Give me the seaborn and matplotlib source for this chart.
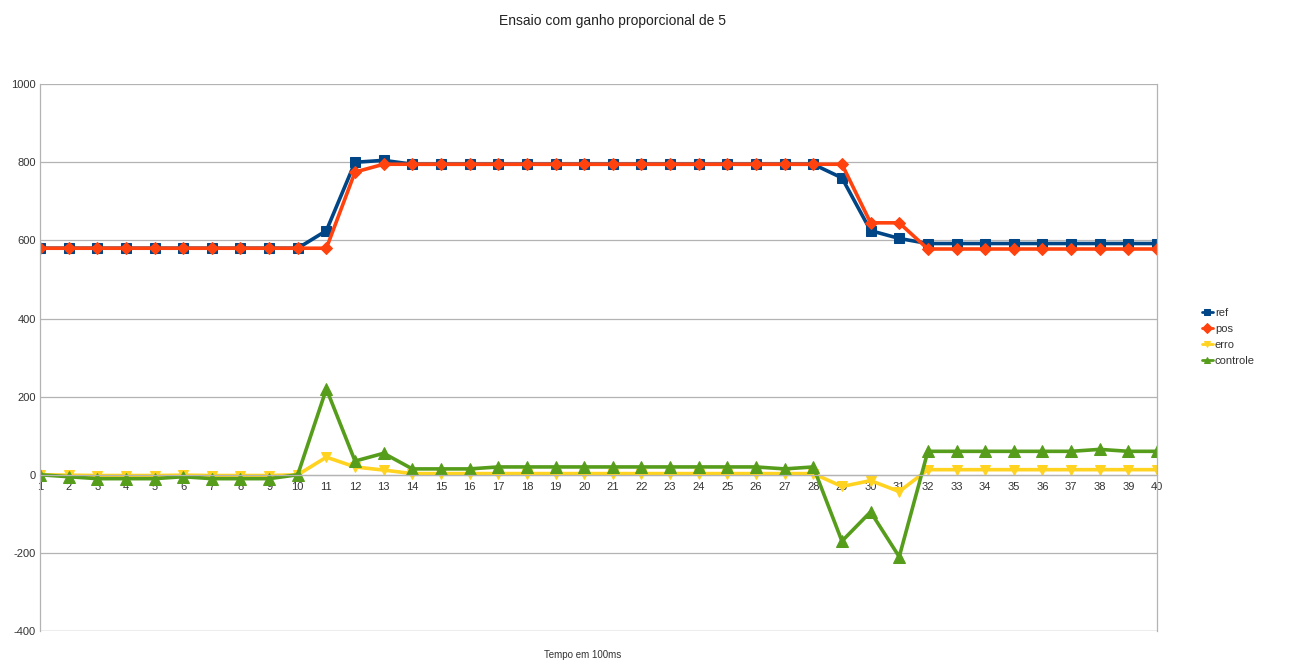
import numpy as np
import pandas as pd
import matplotlib
matplotlib.use("Agg")
import matplotlib.pyplot as plt
import seaborn as sns

tempo = list(range(1, 41))
ref = [580]*10 + [625, 800, 805] + [795]*15 + [760, 625, 605] + [592]*9
pos = [580]*11 + [775] + [795]*17 + [645, 645] + [578]*9
erro = [0, -1, -2, -2, -2, -1, -2, -2, -2, 0, 45, 20, 12] + [3]*15 + [-30, -15, -43] + [13]*9
controle = [0, -5, -10, -10, -10, -5, -10, -10, -10, 0, 220, 35, 55, 15, 15, 15,
            20, 20, 20, 20, 20, 20, 20, 20, 20, 20, 15, 20, -170, -95, -210,
            60, 60, 60, 60, 60, 60, 65, 60, 60]

series_names = ["ref", "pos", "erro", "controle"]
colors = ["#004586", "#ff420e", "#ffd320", "#579d1c"]
markers = ["s", "D", "v", "^"]
msizes = [7, 6, 7, 8]

df = pd.DataFrame({"tempo": tempo, "ref": ref, "pos": pos, "erro": erro, "controle": controle})

sns.set_theme(style="white")
plt.rcParams["font.family"] = ["Liberation Sans", "DejaVu Sans"]
plt.rcParams["axes.unicode_minus"] = False

fig = plt.figure(figsize=(12.89, 6.68), dpi=100)
ax = fig.add_axes([0.031, 0.0554, 0.8666, 0.8186])

for name, c, m, ms in zip(series_names, colors, markers, msizes):
    sns.lineplot(data=df, x="tempo", y=name, ax=ax, color=c, marker=m,
                 markersize=ms, markeredgecolor=c, linewidth=2.6, label=name)

ax.set_xlim(1, 40)
ax.set_ylim(-400, 1000)
ax.set_yticks(range(-400, 1001, 200))
ax.set_xticks(tempo)
ax.tick_params(axis="both", labelsize=8, colors="#333333", length=0, pad=3)
ax.tick_params(axis="x", length=4, color="#b3b3b3", direction="out", pad=1)
ax.yaxis.grid(True, color="#b3b3b3", linewidth=0.9)
ax.set_axisbelow(True)
ax.spines["bottom"].set_position(("data", 0))
for s in ["bottom", "left", "right"]:
    ax.spines[s].set_color("#b3b3b3")
    ax.spines[s].set_linewidth(0.9)
ax.spines["top"].set_visible(False)
ax.axhline(-400, color="#b3b3b3", linewidth=0.9, zorder=0)

ax.set_ylabel("")
ax.set_xlabel("")
fig.text(0.4523, 0.012, "Tempo em 100ms", ha="center", va="bottom", fontsize=7, color="#333333")
fig.text(0.4748, 0.968, "Ensaio com ganho proporcional de 5", ha="center", va="center", fontsize=10, color="#222222")

leg = ax.legend(loc="center left", bbox_to_anchor=(1.035, 0.538), frameon=False,
                fontsize=8, handlelength=1.0, handletextpad=0.2, labelspacing=0.55,
                borderpad=0)
for t in leg.get_texts():
    t.set_color("#333333")
for h in leg.legend_handles:
    h.set_markersize(5)
    h.set_linewidth(2)

fig.savefig("out.png", dpi=100)
